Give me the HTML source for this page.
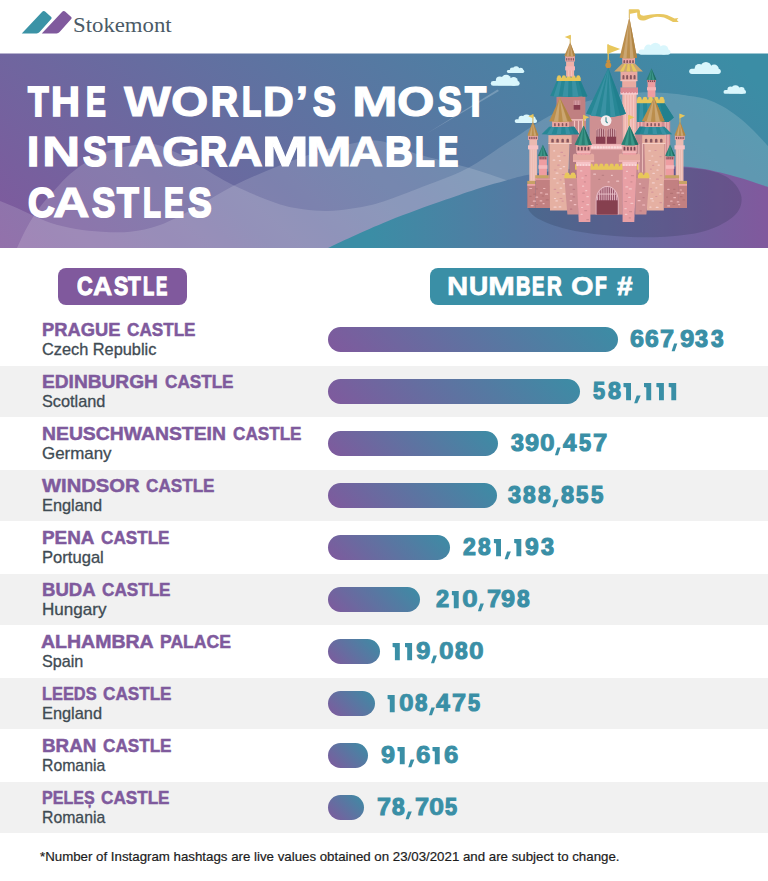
<!DOCTYPE html>
<html><head><meta charset="utf-8"><title>The World's Most Instagrammable Castles</title>
<style>
html,body{margin:0;padding:0;background:#fff;}
body{width:768px;height:881px;position:relative;overflow:hidden;font-family:"Liberation Sans",sans-serif;}
.abs{position:absolute;}
.t{position:absolute;white-space:nowrap;display:inline-block;transform-origin:0 0;line-height:1;}
.row{position:absolute;left:0;width:768px;height:50.8px;background:#f1f1f1;}
.name{font-weight:bold;font-size:18.6px;color:#7f5a9d;-webkit-text-stroke:0.5px #7f5a9d;}
.ctry{font-size:15.9px;color:#3f4b53;left:42.2px;-webkit-text-stroke:0.3px #3f4b53;}
.bar{position:absolute;left:328px;height:25px;border-radius:12.5px;background:linear-gradient(45deg,#80599d 0%,#3b8da5 100%);}
.val{font-weight:bold;font-size:23px;color:#3a8fa6;-webkit-text-stroke:0.6px #3a8fa6;}
.title{font-weight:bold;font-size:42px;color:#fff;left:27px;-webkit-text-stroke:1.1px #fff;}
.pill{position:absolute;border-radius:8px;}
.pt{font-weight:bold;font-size:26.6px;color:#fff;-webkit-text-stroke:0.7px #fff;}
</style></head><body>

<svg class="abs" style="left:0;top:0" width="200" height="54" viewBox="0 0 200 54">
<path d="M22,33.2 L42,11.9 Q43.7,10.4 45.4,11.8 L51.2,17 Q52.2,18 51.2,19.1 L39.6,32 Q38.4,33.4 36.6,33.4 L22.2,33.4 Q21.4,33.4 22,33.2Z" fill="#3b93a6"/>
<path d="M42,33.2 L62,11.9 Q63.7,10.4 65.4,11.8 L71.2,17 Q72.2,18 71.2,19.1 L59.6,32 Q58.4,33.4 56.6,33.4 L42.2,33.4 Q41.4,33.4 42,33.2Z" fill="#80599d"/>
</svg>
<span class="t" id="logo" style="font-family:'Liberation Serif',serif;font-size:21.5px;color:#4b5a66;left:73px;top:15px;transform:scaleX(1.0591)">Stokemont</span>

<svg class="abs" style="left:0;top:0" width="768" height="250" viewBox="0 0 768 250">
<defs>
<linearGradient id="bg" gradientUnits="userSpaceOnUse" x1="0" y1="248" x2="418" y2="-221"><stop offset="0" stop-color="#80599d"/><stop offset="1" stop-color="#3b8da5"/></linearGradient>
<linearGradient id="hg" gradientUnits="userSpaceOnUse" x1="370" y1="0" x2="765" y2="0"><stop offset="0" stop-color="#3b8da5"/><stop offset="1" stop-color="#80599d"/></linearGradient>
<clipPath id="bclip"><rect x="0" y="53.5" width="768" height="194.5"/></clipPath>
</defs>
<g clip-path="url(#bclip)">
<rect x="0" y="53" width="768" height="196" fill="url(#bg)"/>
<path d="M17.0,248.0 C18.3,245.2 22.2,236.4 25.0,231.0 C27.8,225.6 30.8,220.4 34.0,215.6 C37.2,210.8 40.3,206.5 44.0,202.0 C47.7,197.5 51.7,193.2 56.0,188.5 C60.3,183.8 64.3,178.8 70.0,174.0 C75.7,169.2 82.5,164.2 90.0,160.0 C97.5,155.8 104.8,151.7 115.0,149.0 C125.2,146.3 141.0,143.5 151.0,144.0 C161.0,144.5 167.2,148.5 175.0,152.0 C182.8,155.5 188.3,159.5 198.0,165.0 C207.7,170.5 220.0,178.7 233.0,185.0 C246.0,191.3 264.3,198.9 276.0,203.0 C287.7,207.1 294.5,208.0 303.0,209.3 C311.5,210.6 318.8,211.1 327.0,211.0 C335.2,210.9 343.2,210.0 352.0,208.6 C360.8,207.2 369.2,205.8 380.0,202.5 C390.8,199.2 402.7,194.6 417.0,189.0 C431.3,183.4 450.7,176.9 466.0,169.0 C481.3,161.1 494.2,150.8 509.0,141.5 C523.8,132.2 539.8,120.2 555.0,113.0 C570.2,105.8 585.8,101.4 600.0,98.0 C614.2,94.6 628.2,93.2 640.0,92.5 C651.8,91.8 662.7,92.9 671.0,93.5 C679.3,94.1 684.2,95.1 690.0,96.0 C695.8,96.9 700.7,97.3 706.0,99.0 C711.3,100.7 716.7,103.0 722.0,106.0 C727.3,109.0 732.8,112.7 738.0,116.7 C743.2,120.7 748.0,125.1 753.0,130.0 C758.0,134.9 765.5,143.3 768.0,146.0 L768,248 L17,248 Z" fill="#fff" fill-opacity="0.15"/>
<path d="M0.0,201.0 C2.8,202.2 11.3,205.5 17.0,208.0 C22.7,210.5 28.3,213.5 34.0,216.0 C39.7,218.5 44.0,220.8 51.0,223.0 C58.0,225.2 67.5,227.6 76.0,229.0 C84.5,230.4 93.0,231.2 102.0,231.7 C111.0,232.1 120.3,232.8 130.0,231.7 C139.7,230.6 149.2,228.9 160.0,225.0 C170.8,221.1 182.8,214.5 195.0,208.0 C207.2,201.5 219.5,192.8 233.0,186.0 C246.5,179.2 261.7,172.8 276.0,167.0 C290.3,161.2 306.7,155.3 319.0,151.5 C331.3,147.7 339.8,145.8 350.0,144.0 C360.2,142.2 368.8,139.3 380.0,141.0 C391.2,142.7 402.7,149.7 417.0,154.0 C431.3,158.3 451.2,162.7 466.0,167.0 C480.8,171.3 490.3,174.5 506.0,180.0 C521.7,185.5 541.0,192.5 560.0,200.0 C579.0,207.5 600.0,217.0 620.0,225.0 C640.0,233.0 670.0,244.2 680.0,248.0 L0,248 Z" fill="#fff" fill-opacity="0.15"/>
<path d="M426,134 L497.5,89.5 L499,91 Z" fill="#fff" fill-opacity="0.22"/>
<path d="M328.0,248.0 C332.0,246.1 342.1,241.1 352.0,236.7 C361.9,232.2 376.7,225.7 387.5,221.3 C398.3,216.9 406.9,213.7 416.7,210.1 C426.4,206.5 435.4,203.3 446.0,199.6 C456.6,195.9 470.0,191.2 480.0,188.0 C490.0,184.8 498.2,182.7 506.0,180.5 C513.8,178.3 518.0,176.8 527.0,175.0 C536.0,173.2 547.8,171.3 560.0,170.0 C572.2,168.7 586.7,167.7 600.0,167.0 C613.3,166.3 625.0,166.0 640.0,166.0 C655.0,166.0 675.0,165.5 690.0,167.0 C705.0,168.5 717.0,171.7 730.0,175.0 C743.0,178.3 761.7,185.0 768.0,187.0 L768,248 Z" fill="url(#hg)"/>
<path d="M527.0,200.0 C528.0,196.3 527.5,183.0 533.0,178.0 C538.5,173.0 545.5,172.0 560.0,170.0 C574.5,168.0 598.3,166.3 620.0,166.0 C641.7,165.7 672.5,166.3 690.0,168.0 C707.5,169.7 716.5,171.5 725.0,176.0 C733.5,180.5 739.3,188.5 741.0,195.0 C742.7,201.5 741.0,209.0 735.0,215.0 C729.0,221.0 717.5,227.3 705.0,231.0 C692.5,234.7 675.0,236.2 660.0,237.0 C645.0,237.8 629.2,237.0 615.0,236.0 C600.8,235.0 586.7,233.3 575.0,231.0 C563.3,228.7 552.5,225.2 545.0,222.0 C537.5,218.8 533.0,215.7 530.0,212.0 C527.0,208.3 527.5,202.0 527.0,200.0 Z" fill="#1e2840" fill-opacity="0.2"/>
</g>
<g fill="#d9f6fc">
<rect x="638.60" y="49.42" width="31.80" height="5.28" rx="2.64"/>
<circle cx="648.46" cy="48.94" r="4.32"/>
<circle cx="655.45" cy="48.22" r="5.52"/>
<circle cx="663.72" cy="49.90" r="4.68"/>
<rect x="646.55" y="49.30" width="19.08" height="4.80"/>
</g>
<g fill="#d9f6fc">
<rect x="689.20" y="68.72" width="31.60" height="5.28" rx="2.64"/>
<circle cx="699.00" cy="68.24" r="4.32"/>
<circle cx="705.95" cy="67.52" r="5.52"/>
<circle cx="714.16" cy="69.20" r="4.68"/>
<rect x="697.10" y="68.60" width="18.96" height="4.80"/>
</g>
<g fill="#d9f6fc">
<rect x="723.50" y="90.02" width="22.60" height="3.78" rx="1.89"/>
<circle cx="730.51" cy="89.67" r="3.10"/>
<circle cx="735.48" cy="89.16" r="3.96"/>
<circle cx="741.35" cy="90.36" r="3.35"/>
<rect x="729.15" y="89.93" width="13.56" height="3.44"/>
</g>
<g fill="#d9f6fc">
<rect x="490.80" y="80.96" width="28.90" height="4.84" rx="2.42"/>
<circle cx="499.76" cy="80.52" r="3.96"/>
<circle cx="506.12" cy="79.86" r="5.06"/>
<circle cx="513.63" cy="81.40" r="4.29"/>
<rect x="498.03" y="80.85" width="17.34" height="4.40"/>
</g>
<g fill="#d9f6fc">
<rect x="506.90" y="70.11" width="17.40" height="2.99" rx="1.50"/>
<circle cx="512.29" cy="69.84" r="2.45"/>
<circle cx="516.12" cy="69.43" r="3.13"/>
<circle cx="520.65" cy="70.38" r="2.65"/>
<rect x="511.25" y="70.04" width="10.44" height="2.72"/>
</g>
<g fill="#d9f6fc">
<rect x="514.70" y="119.22" width="22.40" height="3.78" rx="1.89"/>
<circle cx="521.64" cy="118.87" r="3.10"/>
<circle cx="526.57" cy="118.36" r="3.96"/>
<circle cx="532.40" cy="119.56" r="3.35"/>
<rect x="520.30" y="119.13" width="13.44" height="3.44"/>
</g>

<g id="castle">
<rect x="556.50" y="96.00" width="28.90" height="41.00" fill="#c08081"/>
<rect x="573.70" y="105.00" width="6.50" height="4.70" fill="#883d50"/>
<rect x="573.70" y="100.50" width="6.50" height="4.50" fill="#d9a0a6"/>
<rect x="574.30" y="100.50" width="0.60" height="4.50" fill="#b87a84"/>
<rect x="575.90" y="100.50" width="0.60" height="4.50" fill="#b87a84"/>
<rect x="577.50" y="100.50" width="0.60" height="4.50" fill="#b87a84"/>
<rect x="579.10" y="100.50" width="0.60" height="4.50" fill="#b87a84"/>
<rect x="572.00" y="119.50" width="14.00" height="17.50" fill="#c68688"/>
<rect x="571.00" y="119.20" width="15.00" height="1.40" fill="#f3c4c0"/>
<rect x="573.90" y="120.60" width="1.20" height="16.40" fill="#f3c4c0"/>
<rect x="577.90" y="120.60" width="1.20" height="16.40" fill="#f3c4c0"/>
<rect x="581.90" y="120.60" width="1.20" height="16.40" fill="#f3c4c0"/>
<path d="M556.7,81 L580.7,81 L587.6,96 Q569,98.2 550.2,96 Z" fill="#278795"/>
<polygon points="558.50,81.00 561.50,81.00 558.50,96.80 553.50,96.80" fill="#3a92a4"/>
<polygon points="565.00,81.00 568.50,81.00 568.00,96.80 562.50,96.80" fill="#3a92a4"/>
<polygon points="572.00,81.00 575.50,81.00 578.50,96.80 572.50,96.80" fill="#3a92a4"/>
<polygon points="578.50,81.00 580.70,81.00 587.20,96.80 582.50,96.80" fill="#21808e"/>
<rect x="556.70" y="77.64" width="24.00" height="3.36" fill="#e8c75b"/>
<rect x="557.18" y="75.20" width="3.84" height="4.06" rx="1.92" fill="#e8c75b"/>
<rect x="561.98" y="75.20" width="3.84" height="4.06" rx="1.92" fill="#e8c75b"/>
<rect x="566.78" y="75.20" width="3.84" height="4.06" rx="1.92" fill="#e8c75b"/>
<rect x="571.58" y="75.20" width="3.84" height="4.06" rx="1.92" fill="#e8c75b"/>
<rect x="576.38" y="75.20" width="3.84" height="4.06" rx="1.92" fill="#e8c75b"/>
<rect x="566.10" y="61.50" width="8.00" height="15.00" fill="#f0b0a8"/>
<rect x="565.20" y="66.30" width="9.80" height="4.10" fill="#f4b5b8"/>
<rect x="568.47" y="70.40" width="0.60" height="6.10" fill="#f7cfc9"/>
<rect x="571.13" y="70.40" width="0.60" height="6.10" fill="#f7cfc9"/>
<rect x="565.20" y="56.00" width="9.70" height="5.60" fill="#e9a5a2"/>
<path d="M566.13,60.40 L566.13,58.60 A0.58,0.58 0 0 1 567.29,58.60 L567.29,60.40 Z" fill="#87565f"/>
<path d="M568.36,60.40 L568.36,58.60 A0.58,0.58 0 0 1 569.52,58.60 L569.52,60.40 Z" fill="#87565f"/>
<path d="M570.58,60.40 L570.58,58.60 A0.58,0.58 0 0 1 571.74,58.60 L571.74,60.40 Z" fill="#87565f"/>
<path d="M572.81,60.40 L572.81,58.60 A0.58,0.58 0 0 1 573.97,58.60 L573.97,60.40 Z" fill="#87565f"/>
<path d="M570.20,42.30 L575.30,56.00 Q569.80,57.00 564.30,56.00 Z" fill="#bb8e4c"/>
<path d="M570.20,42.30 L568.70,56.40 L566.50,56.40 Z" fill="#cba672"/>
<path d="M570.20,42.30 L573.10,56.40 L570.90,56.40 Z" fill="#cba672"/>
<path d="M570.20,42.30 L575.30,56.00 L573.54,56.20 Z" fill="#b08545"/>
<rect x="569.70" y="35.30" width="1.00" height="7.70" fill="#d6b45c"/>
<polygon points="570.70,34.80 564.70,37.06 570.70,39.50" fill="#e8c75b"/>
<rect x="636.80" y="120.00" width="33.40" height="58.00" fill="#d38d93"/>
<rect x="637.70" y="121.00" width="1.00" height="55.00" fill="#f3c4c0"/>
<rect x="641.30" y="121.00" width="1.00" height="55.00" fill="#f3c4c0"/>
<rect x="664.70" y="121.00" width="1.00" height="55.00" fill="#f3c4c0"/>
<rect x="667.50" y="121.00" width="1.00" height="55.00" fill="#f3c4c0"/>
<rect x="647.60" y="79.50" width="7.80" height="18.00" fill="#ee9da1"/>
<rect x="647.00" y="79.50" width="9.00" height="2.70" fill="#c9868a"/>
<path d="M647.97,81.90 L647.97,80.52 A0.45,0.45 0 0 1 648.88,80.52 L648.88,81.90 Z" fill="#7c4050"/>
<path d="M650.02,81.90 L650.02,80.52 A0.45,0.45 0 0 1 650.93,80.52 L650.93,81.90 Z" fill="#7c4050"/>
<path d="M652.07,81.90 L652.07,80.52 A0.45,0.45 0 0 1 652.98,80.52 L652.98,81.90 Z" fill="#7c4050"/>
<path d="M654.12,81.90 L654.12,80.52 A0.45,0.45 0 0 1 655.03,80.52 L655.03,81.90 Z" fill="#7c4050"/>
<rect x="647.00" y="87.20" width="9.00" height="3.20" fill="#f4b3b6"/>
<path d="M651.50,68.50 L656.40,79.70 Q651.40,80.50 646.40,79.70 Z" fill="#2a7f73"/>
<path d="M651.50,68.50 L650.40,80.02 L648.40,80.02 Z" fill="#3c9789"/>
<path d="M651.50,68.50 L654.40,80.02 L652.40,80.02 Z" fill="#3c9789"/>
<path d="M651.50,68.50 L656.40,79.70 L654.80,79.86 Z" fill="#1f6f66"/>
<polygon points="636.60,103.00 664.40,103.00 673.80,117.50 668.50,122.00 636.60,122.00" fill="#278795"/>
<polygon points="660.00,103.00 664.40,103.00 673.80,117.50 668.50,122.00 664.00,122.00" fill="#21808e"/>
<polygon points="640.00,103.00 643.00,103.00 643.50,122.00 639.00,122.00" fill="#3a92a4"/>
<polygon points="647.00,103.00 650.00,103.00 652.00,122.00 647.50,122.00" fill="#3a92a4"/>
<polygon points="654.00,103.00 657.00,103.00 660.50,122.00 656.00,122.00" fill="#3a92a4"/>
<rect x="636.60" y="99.49" width="28.00" height="3.71" fill="#e8c75b"/>
<rect x="637.16" y="96.80" width="4.48" height="4.48" rx="2.24" fill="#e8c75b"/>
<rect x="642.76" y="96.80" width="4.48" height="4.48" rx="2.24" fill="#e8c75b"/>
<rect x="648.36" y="96.80" width="4.48" height="4.48" rx="2.24" fill="#e8c75b"/>
<rect x="653.96" y="96.80" width="4.48" height="4.48" rx="2.24" fill="#e8c75b"/>
<rect x="659.56" y="96.80" width="4.48" height="4.48" rx="2.24" fill="#e8c75b"/>
<rect x="622.30" y="93.00" width="14.30" height="72.00" fill="#eeb3ad"/>
<rect x="624.76" y="94.50" width="0.80" height="70.50" fill="#f8d3cd"/>
<rect x="627.62" y="94.50" width="0.80" height="70.50" fill="#f8d3cd"/>
<rect x="630.48" y="94.50" width="0.80" height="70.50" fill="#f8d3cd"/>
<rect x="633.34" y="94.50" width="0.80" height="70.50" fill="#f8d3cd"/>
<rect x="620.40" y="92.00" width="17.60" height="2.60" fill="#f7ced1"/>
<rect x="620.40" y="87.40" width="17.60" height="4.80" fill="#dc8992"/>
<circle cx="621.90" cy="92.2" r="1.1" fill="#dc8992"/>
<circle cx="624.85" cy="92.2" r="1.1" fill="#dc8992"/>
<circle cx="627.80" cy="92.2" r="1.1" fill="#dc8992"/>
<circle cx="630.75" cy="92.2" r="1.1" fill="#dc8992"/>
<circle cx="633.70" cy="92.2" r="1.1" fill="#dc8992"/>
<circle cx="636.65" cy="92.2" r="1.1" fill="#dc8992"/>
<rect x="622.20" y="80.50" width="14.00" height="7.10" fill="#e9aaa1"/>
<rect x="620.50" y="71.20" width="16.90" height="9.80" fill="#eaa9a1"/>
<rect x="620.50" y="80.30" width="16.90" height="0.90" fill="#f6cdc8"/>
<path d="M622.45,79.30 L622.45,76.10 A1.00,1.00 0 0 1 624.45,76.10 L624.45,79.30 Z" fill="#87565f"/>
<path d="M626.15,79.30 L626.15,76.10 A1.00,1.00 0 0 1 628.15,76.10 L628.15,79.30 Z" fill="#87565f"/>
<path d="M629.85,79.30 L629.85,76.10 A1.00,1.00 0 0 1 631.85,76.10 L631.85,79.30 Z" fill="#87565f"/>
<path d="M633.55,79.30 L633.55,76.10 A1.00,1.00 0 0 1 635.55,76.10 L635.55,79.30 Z" fill="#87565f"/>
<polygon points="622.30,63.50 635.00,63.50 642.90,71.50 614.10,71.50" fill="#cba672"/>
<polygon points="624.84,63.50 626.49,63.50 623.60,71.50 619.86,71.50" fill="#e8c75b"/>
<polygon points="627.76,63.50 629.41,63.50 630.23,71.50 626.48,71.50" fill="#e8c75b"/>
<polygon points="630.68,63.50 632.46,63.50 637.14,71.50 633.11,71.50" fill="#e8c75b"/>
<rect x="622.30" y="57.60" width="12.70" height="6.00" fill="#e9a5a2"/>
<path d="M623.41,63.00 L623.41,60.89 A0.85,0.85 0 0 1 625.11,60.89 L625.11,63.00 Z" fill="#87565f"/>
<path d="M626.34,63.00 L626.34,60.89 A0.85,0.85 0 0 1 628.04,60.89 L628.04,63.00 Z" fill="#87565f"/>
<path d="M629.26,63.00 L629.26,60.89 A0.85,0.85 0 0 1 630.96,60.89 L630.96,63.00 Z" fill="#87565f"/>
<path d="M632.19,63.00 L632.19,60.89 A0.85,0.85 0 0 1 633.89,60.89 L633.89,63.00 Z" fill="#87565f"/>
<path d="M629.30,17.20 L637.00,57.80 Q628.30,59.20 619.60,57.80 Z" fill="#bb8e4c"/>
<path d="M629.30,17.20 L626.56,58.36 L623.08,58.36 Z" fill="#cba672"/>
<path d="M629.30,17.20 L633.52,58.36 L630.04,58.36 Z" fill="#cba672"/>
<path d="M629.30,17.20 L637.00,57.80 L634.22,58.08 Z" fill="#b08545"/>
<rect x="628.80" y="9.60" width="1.00" height="8.40" fill="#d6b45c"/>
<path d="M629.3,9.3 L638.2,9.2 Q639.8,9.3 639.9,11 L640,14 Q641,16 645,15.6 Q651,14.4 657,14 Q663,13.6 667,15 Q671,16.6 674.6,18.6 L678.4,18 L676.8,20 L678.7,22 L673,22 Q668,19 664,17.4 Q659,16.4 654.5,16.9 Q649,18.4 645.4,20.2 Q641,21 639,19.5 Q637.2,18 637.2,15.5 L637.2,12.6 L629.3,14 Z" fill="#e8c760"/>
<rect x="589.60" y="113.00" width="33.00" height="57.00" fill="#ce9092"/>
<path d="M608.3,68 L625.9,113.8 Q608.3,120.5 586,113.8 Z" fill="#278795"/>
<path d="M608.3,68 L595.5,116.3 L590.5,115.7 Z" fill="#3a92a4"/>
<path d="M608.3,68 L605.5,117.5 L600.0,116.9 Z" fill="#3a92a4"/>
<path d="M608.3,68 L615.5,116.5 L610.5,117.1 Z" fill="#3a92a4"/>
<path d="M608.3,68 L625.9,113.8 L620,115.6 Z" fill="#21808e"/>
<rect x="607.60" y="44.50" width="1.30" height="17.50" fill="#dcbc5c"/>
<circle cx="608.3" cy="61.3" r="1.9" fill="#c8903f"/>
<circle cx="608.3" cy="65.2" r="2.9" fill="#c8903f"/>
<polygon points="607.30,44.20 620.20,48.90 607.30,54.00" fill="#e8c75b"/>
<circle cx="606.1" cy="120.6" r="5.4" fill="#f5efef"/>
<path d="M606,117.2 L606,121.4 L607.6,123" stroke="#3a8a90" stroke-width="1.1" fill="none"/>
<path d="M596.10,143.6 L596.10,130.6 Q600.65,126.6 605.20,130.6 L605.20,143.6 Z" fill="#91505f"/>
<rect x="596.64" y="129.50" width="0.72" height="7.50" fill="#efc4c8"/>
<rect x="598.47" y="128.60" width="0.72" height="8.40" fill="#efc4c8"/>
<rect x="600.29" y="128.60" width="0.72" height="8.40" fill="#efc4c8"/>
<rect x="602.12" y="128.60" width="0.72" height="8.40" fill="#efc4c8"/>
<rect x="603.94" y="129.50" width="0.72" height="7.50" fill="#efc4c8"/>
<rect x="596.10" y="136.70" width="9.10" height="6.90" fill="#883d50"/>
<path d="M607.00,143.6 L607.00,130.6 Q611.55,126.6 616.10,130.6 L616.10,143.6 Z" fill="#91505f"/>
<rect x="607.54" y="129.50" width="0.72" height="7.50" fill="#efc4c8"/>
<rect x="609.37" y="128.60" width="0.72" height="8.40" fill="#efc4c8"/>
<rect x="611.19" y="128.60" width="0.72" height="8.40" fill="#efc4c8"/>
<rect x="613.01" y="128.60" width="0.72" height="8.40" fill="#efc4c8"/>
<rect x="614.84" y="129.50" width="0.72" height="7.50" fill="#efc4c8"/>
<rect x="607.00" y="136.70" width="9.10" height="6.90" fill="#883d50"/>
<rect x="590.30" y="144.20" width="32.30" height="5.20" fill="#f4bbbe"/>
<rect x="591.30" y="146.2" width="2.3" height="2.4" rx="0.6" fill="#f9dcdc"/>
<rect x="594.10" y="146.2" width="2.3" height="2.4" rx="0.6" fill="#f9dcdc"/>
<rect x="596.90" y="146.2" width="2.3" height="2.4" rx="0.6" fill="#f9dcdc"/>
<rect x="599.70" y="146.2" width="2.3" height="2.4" rx="0.6" fill="#f9dcdc"/>
<rect x="602.50" y="146.2" width="2.3" height="2.4" rx="0.6" fill="#f9dcdc"/>
<rect x="605.30" y="146.2" width="2.3" height="2.4" rx="0.6" fill="#f9dcdc"/>
<rect x="608.10" y="146.2" width="2.3" height="2.4" rx="0.6" fill="#f9dcdc"/>
<rect x="610.90" y="146.2" width="2.3" height="2.4" rx="0.6" fill="#f9dcdc"/>
<rect x="613.70" y="146.2" width="2.3" height="2.4" rx="0.6" fill="#f9dcdc"/>
<rect x="616.50" y="146.2" width="2.3" height="2.4" rx="0.6" fill="#f9dcdc"/>
<rect x="619.30" y="146.2" width="2.3" height="2.4" rx="0.6" fill="#f9dcdc"/>
<rect x="589.80" y="169.00" width="33.00" height="45.60" fill="#cf9193"/>
<rect x="593.2" y="173.6" width="2.8" height="1.2" rx="0.5" fill="#efc4c6"/>
<rect x="601.7" y="174.8" width="2.4" height="1.2" rx="0.5" fill="#bb8083"/>
<rect x="610.9" y="174.7" width="2.0" height="1.2" rx="0.5" fill="#efc4c6"/>
<rect x="598.2" y="178.7" width="2.1" height="1.2" rx="0.5" fill="#bb8083"/>
<rect x="607.5" y="181.2" width="2.1" height="1.2" rx="0.5" fill="#efc4c6"/>
<rect x="616.1" y="180.5" width="3.1" height="1.2" rx="0.5" fill="#efc4c6"/>
<rect x="588.30" y="166.20" width="36.40" height="3.60" fill="#e8c75b"/>
<rect x="588.82" y="163.60" width="4.16" height="4.34" rx="2.08" fill="#e8c75b"/>
<rect x="594.02" y="163.60" width="4.16" height="4.34" rx="2.08" fill="#e8c75b"/>
<rect x="599.22" y="163.60" width="4.16" height="4.34" rx="2.08" fill="#e8c75b"/>
<rect x="604.42" y="163.60" width="4.16" height="4.34" rx="2.08" fill="#e8c75b"/>
<rect x="609.62" y="163.60" width="4.16" height="4.34" rx="2.08" fill="#e8c75b"/>
<rect x="614.82" y="163.60" width="4.16" height="4.34" rx="2.08" fill="#e8c75b"/>
<rect x="620.02" y="163.60" width="4.16" height="4.34" rx="2.08" fill="#e8c75b"/>
<path d="M595.7,214.6 L595.7,200.6 A11.45,14.7 0 0 1 618.6,200.6 L618.6,214.6 Z" fill="#e8bcc6"/>
<path d="M596.7,214.6 L596.7,200.6 A10.45,13.6 0 0 1 617.6,200.6 L617.6,214.6 Z" fill="#98546a"/>
<clipPath id="gclip"><path d="M596.7,214.6 L596.7,200.6 A10.45,13.6 0 0 1 617.6,200.6 L617.6,214.6 Z"/></clipPath>
<g clip-path="url(#gclip)">
<rect x="597.18" y="186.00" width="0.84" height="14.60" fill="#ecc3cb"/>
<rect x="599.30" y="186.00" width="0.84" height="14.60" fill="#ecc3cb"/>
<rect x="601.42" y="186.00" width="0.84" height="14.60" fill="#ecc3cb"/>
<rect x="603.55" y="186.00" width="0.84" height="14.60" fill="#ecc3cb"/>
<rect x="605.67" y="186.00" width="0.84" height="14.60" fill="#ecc3cb"/>
<rect x="607.79" y="186.00" width="0.84" height="14.60" fill="#ecc3cb"/>
<rect x="609.91" y="186.00" width="0.84" height="14.60" fill="#ecc3cb"/>
<rect x="612.04" y="186.00" width="0.84" height="14.60" fill="#ecc3cb"/>
<rect x="614.16" y="186.00" width="0.84" height="14.60" fill="#ecc3cb"/>
<rect x="616.28" y="186.00" width="0.84" height="14.60" fill="#ecc3cb"/>
<rect x="596.00" y="193.60" width="22.00" height="0.90" fill="#ecc3cb"/>
<rect x="596.00" y="200.40" width="22.00" height="14.60" fill="#86404f"/>
</g>
<rect x="675.70" y="139.50" width="7.80" height="41.50" fill="#ebbab1"/>
<rect x="681.10" y="149.40" width="0.80" height="31.10" fill="#f3cbc4"/>
<rect x="679.20" y="149.40" width="0.80" height="31.10" fill="#f3cbc4"/>
<rect x="677.30" y="149.40" width="0.80" height="31.10" fill="#f3cbc4"/>
<rect x="674.50" y="145.30" width="10.30" height="4.10" fill="#f6c2c4"/>
<rect x="674.90" y="135.20" width="9.80" height="4.80" fill="#e9a5a2"/>
<path d="M675.85,138.90 L675.85,137.46 A0.65,0.65 0 0 1 677.15,137.46 L677.15,138.90 Z" fill="#87565f"/>
<path d="M678.05,138.90 L678.05,137.46 A0.65,0.65 0 0 1 679.35,137.46 L679.35,138.90 Z" fill="#87565f"/>
<path d="M680.25,138.90 L680.25,137.46 A0.65,0.65 0 0 1 681.55,137.46 L681.55,138.90 Z" fill="#87565f"/>
<path d="M682.45,138.90 L682.45,137.46 A0.65,0.65 0 0 1 683.75,137.46 L683.75,138.90 Z" fill="#87565f"/>
<path d="M679.95,121.40 L685.50,135.40 Q679.95,136.40 674.40,135.40 Z" fill="#bb8e4c"/>
<path d="M679.95,121.40 L678.84,135.80 L676.62,135.80 Z" fill="#cba672"/>
<path d="M679.95,121.40 L683.28,135.80 L681.06,135.80 Z" fill="#cba672"/>
<path d="M679.95,121.40 L685.50,135.40 L683.72,135.60 Z" fill="#b08545"/>
<rect x="665.90" y="155.50" width="7.90" height="20.50" fill="#ee9da1"/>
<rect x="665.50" y="156.30" width="8.70" height="3.30" fill="#c9868a"/>
<path d="M666.59,159.20 L666.59,157.51 A0.45,0.45 0 0 1 667.49,157.51 L667.49,159.20 Z" fill="#7c4050"/>
<path d="M668.46,159.20 L668.46,157.51 A0.45,0.45 0 0 1 669.36,157.51 L669.36,159.20 Z" fill="#7c4050"/>
<path d="M670.34,159.20 L670.34,157.51 A0.45,0.45 0 0 1 671.24,157.51 L671.24,159.20 Z" fill="#7c4050"/>
<path d="M672.21,159.20 L672.21,157.51 A0.45,0.45 0 0 1 673.11,157.51 L673.11,159.20 Z" fill="#7c4050"/>
<rect x="665.40" y="165.20" width="8.90" height="3.60" fill="#f5b9bc"/>
<path d="M670.00,144.70 L675.00,155.90 Q670.00,156.70 665.00,155.90 Z" fill="#2a7f73"/>
<path d="M670.00,144.70 L669.00,156.22 L667.00,156.22 Z" fill="#3c9789"/>
<path d="M670.00,144.70 L673.00,156.22 L671.00,156.22 Z" fill="#3c9789"/>
<path d="M670.00,144.70 L675.00,155.90 L673.40,156.06 Z" fill="#1f6f66"/>
<rect x="678.70" y="184.00" width="8.30" height="24.00" fill="#c28081"/>
<rect x="678.90" y="180.90" width="8.10" height="3.20" fill="#c8a266"/>
<rect x="678.90" y="184.00" width="8.10" height="1.80" fill="#eea4a8"/>
<rect x="664.00" y="178.40" width="14.90" height="29.60" fill="#c28081"/>
<rect x="664.00" y="175.20" width="15.10" height="3.30" fill="#c8a266"/>
<rect x="664.00" y="178.40" width="14.90" height="1.40" fill="#e8a0a4"/>
<rect x="667.2" y="188.7" width="2.4" height="1.2" rx="0.5" fill="#e9b4b6"/>
<rect x="673.1" y="188.8" width="2.4" height="1.2" rx="0.5" fill="#b37274"/>
<rect x="679.7" y="189.4" width="2.3" height="1.2" rx="0.5" fill="#e9b4b6"/>
<rect x="670.0" y="192.8" width="3.1" height="1.2" rx="0.5" fill="#b37274"/>
<rect x="676.5" y="192.2" width="3.2" height="1.2" rx="0.5" fill="#e9b4b6"/>
<rect x="681.2" y="192.5" width="2.9" height="1.2" rx="0.5" fill="#e9b4b6"/>
<rect x="666.1" y="196.5" width="2.0" height="1.2" rx="0.5" fill="#b37274"/>
<rect x="673.3" y="197.1" width="2.7" height="1.2" rx="0.5" fill="#e9b4b6"/>
<rect x="679.8" y="196.1" width="2.8" height="1.2" rx="0.5" fill="#b37274"/>
<rect x="670.1" y="200.5" width="2.5" height="1.2" rx="0.5" fill="#e9b4b6"/>
<rect x="676.7" y="201.3" width="2.6" height="1.2" rx="0.5" fill="#e9b4b6"/>
<rect x="682.4" y="199.3" width="2.8" height="1.2" rx="0.5" fill="#b37274"/>
<rect x="667.1" y="205.2" width="3.0" height="1.2" rx="0.5" fill="#e9b4b6"/>
<rect x="672.5" y="203.8" width="2.8" height="1.2" rx="0.5" fill="#b37274"/>
<rect x="678.0" y="204.0" width="2.2" height="1.2" rx="0.5" fill="#e9b4b6"/>
<rect x="529.30" y="139.50" width="7.80" height="41.50" fill="#ebbab1"/>
<rect x="530.90" y="149.40" width="0.80" height="31.10" fill="#f3cbc4"/>
<rect x="532.80" y="149.40" width="0.80" height="31.10" fill="#f3cbc4"/>
<rect x="534.70" y="149.40" width="0.80" height="31.10" fill="#f3cbc4"/>
<rect x="528.00" y="145.30" width="10.30" height="4.10" fill="#f6c2c4"/>
<rect x="528.10" y="135.20" width="9.80" height="4.80" fill="#e9a5a2"/>
<path d="M529.05,138.90 L529.05,137.46 A0.65,0.65 0 0 1 530.35,137.46 L530.35,138.90 Z" fill="#87565f"/>
<path d="M531.25,138.90 L531.25,137.46 A0.65,0.65 0 0 1 532.55,137.46 L532.55,138.90 Z" fill="#87565f"/>
<path d="M533.45,138.90 L533.45,137.46 A0.65,0.65 0 0 1 534.75,137.46 L534.75,138.90 Z" fill="#87565f"/>
<path d="M535.65,138.90 L535.65,137.46 A0.65,0.65 0 0 1 536.95,137.46 L536.95,138.90 Z" fill="#87565f"/>
<path d="M532.85,121.40 L538.40,135.40 Q532.85,136.40 527.30,135.40 Z" fill="#bb8e4c"/>
<path d="M532.85,121.40 L531.74,135.80 L529.52,135.80 Z" fill="#cba672"/>
<path d="M532.85,121.40 L536.18,135.80 L533.96,135.80 Z" fill="#cba672"/>
<path d="M532.85,121.40 L538.40,135.40 L536.62,135.60 Z" fill="#b08545"/>
<rect x="539.00" y="155.50" width="7.90" height="20.50" fill="#ee9da1"/>
<rect x="538.60" y="156.30" width="8.70" height="3.30" fill="#c9868a"/>
<path d="M539.69,159.20 L539.69,157.51 A0.45,0.45 0 0 1 540.59,157.51 L540.59,159.20 Z" fill="#7c4050"/>
<path d="M541.56,159.20 L541.56,157.51 A0.45,0.45 0 0 1 542.46,157.51 L542.46,159.20 Z" fill="#7c4050"/>
<path d="M543.44,159.20 L543.44,157.51 A0.45,0.45 0 0 1 544.34,157.51 L544.34,159.20 Z" fill="#7c4050"/>
<path d="M545.31,159.20 L545.31,157.51 A0.45,0.45 0 0 1 546.21,157.51 L546.21,159.20 Z" fill="#7c4050"/>
<rect x="538.50" y="165.20" width="8.90" height="3.60" fill="#f5b9bc"/>
<path d="M542.80,144.70 L547.80,155.90 Q542.80,156.70 537.80,155.90 Z" fill="#2a7f73"/>
<path d="M542.80,144.70 L541.80,156.22 L539.80,156.22 Z" fill="#3c9789"/>
<path d="M542.80,144.70 L545.80,156.22 L543.80,156.22 Z" fill="#3c9789"/>
<path d="M542.80,144.70 L547.80,155.90 L546.20,156.06 Z" fill="#1f6f66"/>
<rect x="527.30" y="184.00" width="8.30" height="24.00" fill="#c28081"/>
<rect x="527.30" y="180.90" width="8.10" height="3.20" fill="#c8a266"/>
<rect x="527.30" y="184.00" width="8.10" height="1.80" fill="#eea4a8"/>
<rect x="535.40" y="178.40" width="14.90" height="29.60" fill="#c28081"/>
<rect x="535.20" y="175.20" width="15.10" height="3.30" fill="#c8a266"/>
<rect x="535.40" y="178.40" width="14.90" height="1.40" fill="#e8a0a4"/>
<rect x="529.2" y="187.9" width="2.9" height="1.2" rx="0.5" fill="#e9b4b6"/>
<rect x="535.3" y="188.3" width="2.5" height="1.2" rx="0.5" fill="#b37274"/>
<rect x="543.0" y="187.9" width="2.5" height="1.2" rx="0.5" fill="#e9b4b6"/>
<rect x="533.2" y="193.6" width="3.0" height="1.2" rx="0.5" fill="#b37274"/>
<rect x="540.0" y="192.2" width="2.5" height="1.2" rx="0.5" fill="#e9b4b6"/>
<rect x="545.0" y="193.6" width="3.1" height="1.2" rx="0.5" fill="#e9b4b6"/>
<rect x="529.3" y="195.8" width="2.3" height="1.2" rx="0.5" fill="#b37274"/>
<rect x="535.5" y="196.5" width="2.7" height="1.2" rx="0.5" fill="#e9b4b6"/>
<rect x="541.7" y="195.4" width="2.5" height="1.2" rx="0.5" fill="#b37274"/>
<rect x="532.8" y="200.5" width="3.1" height="1.2" rx="0.5" fill="#e9b4b6"/>
<rect x="539.6" y="200.3" width="2.7" height="1.2" rx="0.5" fill="#e9b4b6"/>
<rect x="545.7" y="199.3" width="3.1" height="1.2" rx="0.5" fill="#b37274"/>
<rect x="530.6" y="205.0" width="3.0" height="1.2" rx="0.5" fill="#e9b4b6"/>
<rect x="535.9" y="203.9" width="2.1" height="1.2" rx="0.5" fill="#b37274"/>
<rect x="542.5" y="203.1" width="2.1" height="1.2" rx="0.5" fill="#e9b4b6"/>
<rect x="532.40" y="114.60" width="1.00" height="7.40" fill="#d6b45c"/>
<polygon points="533.40,114.10 528.30,116.20 533.40,118.40" fill="#e8c75b"/>
<rect x="679.50" y="114.00" width="1.00" height="8.50" fill="#d6b45c"/>
<polygon points="679.50,113.50 685.20,115.85 679.50,118.40" fill="#e8c75b"/>
<rect x="635.30" y="134.00" width="9.20" height="44.00" fill="#c1878c"/>
<rect x="636.60" y="164.20" width="2.10" height="5.50" fill="#e8c75b"/>
<polygon points="664.20,143.40 644.40,143.40 646.60,210.60 663.80,210.60" fill="#e5b0a2"/>
<rect x="664.00" y="143.40" width="1.30" height="34.60" fill="#cf9590"/>
<rect x="648.4" y="150.3" width="2.4" height="1.2" rx="0.5" fill="#f3cfcc"/>
<rect x="654.4" y="149.9" width="2.2" height="1.2" rx="0.5" fill="#d6959b"/>
<rect x="651.3" y="155.4" width="2.0" height="1.2" rx="0.5" fill="#f3cfcc"/>
<rect x="659.4" y="156.1" width="2.2" height="1.2" rx="0.5" fill="#d6959b"/>
<rect x="648.5" y="159.9" width="2.4" height="1.2" rx="0.5" fill="#f3cfcc"/>
<rect x="654.5" y="161.3" width="3.2" height="1.2" rx="0.5" fill="#f3cfcc"/>
<rect x="652.1" y="164.8" width="2.1" height="1.2" rx="0.5" fill="#d6959b"/>
<rect x="657.6" y="164.5" width="2.3" height="1.2" rx="0.5" fill="#f3cfcc"/>
<rect x="649.8" y="168.5" width="2.0" height="1.2" rx="0.5" fill="#d6959b"/>
<rect x="656.4" y="169.5" width="2.2" height="1.2" rx="0.5" fill="#f3cfcc"/>
<rect x="652.3" y="172.7" width="2.6" height="1.2" rx="0.5" fill="#f3cfcc"/>
<rect x="659.6" y="175.0" width="2.8" height="1.2" rx="0.5" fill="#d6959b"/>
<rect x="648.5" y="178.1" width="2.2" height="1.2" rx="0.5" fill="#f3cfcc"/>
<rect x="656.0" y="178.6" width="2.9" height="1.2" rx="0.5" fill="#d6959b"/>
<rect x="651.8" y="182.3" width="3.0" height="1.2" rx="0.5" fill="#f3cfcc"/>
<rect x="659.6" y="184.0" width="3.0" height="1.2" rx="0.5" fill="#f3cfcc"/>
<rect x="649.8" y="188.2" width="2.3" height="1.2" rx="0.5" fill="#d6959b"/>
<rect x="655.4" y="187.2" width="2.0" height="1.2" rx="0.5" fill="#f3cfcc"/>
<rect x="651.2" y="191.5" width="2.3" height="1.2" rx="0.5" fill="#d6959b"/>
<rect x="659.0" y="193.4" width="2.5" height="1.2" rx="0.5" fill="#f3cfcc"/>
<rect x="650.1" y="198.0" width="3.1" height="1.2" rx="0.5" fill="#f3cfcc"/>
<rect x="655.1" y="195.9" width="2.3" height="1.2" rx="0.5" fill="#d6959b"/>
<rect x="651.5" y="200.4" width="2.7" height="1.2" rx="0.5" fill="#f3cfcc"/>
<rect x="659.4" y="202.1" width="2.6" height="1.2" rx="0.5" fill="#d6959b"/>
<rect x="649.4" y="206.5" width="2.1" height="1.2" rx="0.5" fill="#f3cfcc"/>
<rect x="655.7" y="206.8" width="2.9" height="1.2" rx="0.5" fill="#f3cfcc"/>
<rect x="638.45" y="144.00" width="0.90" height="28.50" fill="#f3c4c0"/>
<rect x="641.95" y="144.00" width="0.90" height="28.50" fill="#f3c4c0"/>
<polygon points="649.40,178.00 635.20,178.00 635.20,214.50 646.40,214.50" fill="#ce9092"/>
<rect x="638.9" y="183.2" width="2.2" height="1.2" rx="0.5" fill="#f3c0c4"/>
<rect x="642.2" y="187.2" width="3.0" height="1.2" rx="0.5" fill="#bd7a84"/>
<rect x="639.4" y="191.8" width="2.5" height="1.2" rx="0.5" fill="#f3c0c4"/>
<rect x="642.5" y="197.1" width="2.2" height="1.2" rx="0.5" fill="#bd7a84"/>
<rect x="637.5" y="200.0" width="3.1" height="1.2" rx="0.5" fill="#f3c0c4"/>
<rect x="642.2" y="204.4" width="3.0" height="1.2" rx="0.5" fill="#f3c0c4"/>
<rect x="639.5" y="210.2" width="2.4" height="1.2" rx="0.5" fill="#bd7a84"/>
<rect x="637.90" y="174.88" width="11.50" height="3.42" fill="#e8c75b"/>
<rect x="638.48" y="172.40" width="4.60" height="4.13" rx="2.07" fill="#e8c75b"/>
<rect x="644.23" y="172.40" width="4.60" height="4.13" rx="2.07" fill="#e8c75b"/>
<rect x="642.20" y="135.20" width="23.20" height="8.60" fill="#e8b0a0"/>
<rect x="642.20" y="143.00" width="23.20" height="1.00" fill="#f4cfc6"/>
<path d="M644.87,142.60 L644.87,140.07 A1.25,1.25 0 0 1 647.37,140.07 L647.37,142.60 Z" fill="#87565f"/>
<path d="M649.92,142.60 L649.92,140.07 A1.25,1.25 0 0 1 652.42,140.07 L652.42,142.60 Z" fill="#87565f"/>
<path d="M654.97,142.60 L654.97,140.07 A1.25,1.25 0 0 1 657.47,140.07 L657.47,142.60 Z" fill="#87565f"/>
<path d="M660.02,142.60 L660.02,140.07 A1.25,1.25 0 0 1 662.52,140.07 L662.52,142.60 Z" fill="#87565f"/>
<polygon points="664.60,126.80 639.60,126.80 634.60,134.30 672.20,134.30" fill="#278795"/>
<polygon points="662.30,126.80 659.30,126.80 662.30,134.30 666.80,134.30" fill="#3a92a4"/>
<polygon points="655.80,126.80 652.30,126.80 652.80,134.30 657.30,134.30" fill="#3a92a4"/>
<polygon points="648.80,126.80 645.80,126.80 643.30,134.30 647.80,134.30" fill="#3a92a4"/>
<polygon points="642.80,126.80 639.60,126.80 634.60,134.30 639.30,134.30" fill="#21808e"/>
<path d="M672.20,134.3 Q653.40,135.8 634.60,134.3 Z" fill="#278795"/>
<rect x="644.70" y="121.00" width="17.00" height="6.00" fill="#e9a79f"/>
<path d="M646.61,126.20 L646.61,123.76 A0.80,0.80 0 0 1 648.21,123.76 L648.21,126.20 Z" fill="#87565f"/>
<path d="M650.44,126.20 L650.44,123.76 A0.80,0.80 0 0 1 652.04,123.76 L652.04,126.20 Z" fill="#87565f"/>
<path d="M654.26,126.20 L654.26,123.76 A0.80,0.80 0 0 1 655.86,123.76 L655.86,126.20 Z" fill="#87565f"/>
<path d="M658.09,126.20 L658.09,123.76 A0.80,0.80 0 0 1 659.69,123.76 L659.69,126.20 Z" fill="#87565f"/>
<path d="M654.00,97.70 L664.60,121.20 Q653.20,122.60 641.80,121.20 Z" fill="#bb8e4c"/>
<path d="M654.00,97.70 L650.92,121.76 L646.36,121.76 Z" fill="#cba672"/>
<path d="M654.00,97.70 L660.04,121.76 L655.48,121.76 Z" fill="#cba672"/>
<path d="M654.00,97.70 L664.60,121.20 L660.95,121.48 Z" fill="#b08545"/>
<rect x="569.30" y="134.00" width="9.20" height="44.00" fill="#b27a82"/>
<rect x="575.10" y="164.20" width="2.10" height="5.50" fill="#e8c75b"/>
<polygon points="549.60,143.40 569.40,143.40 567.20,210.60 550.00,210.60" fill="#e5b0a2"/>
<rect x="548.50" y="143.40" width="1.30" height="34.60" fill="#cf9590"/>
<rect x="553.2" y="150.3" width="2.0" height="1.2" rx="0.5" fill="#f3cfcc"/>
<rect x="560.4" y="151.7" width="2.6" height="1.2" rx="0.5" fill="#d6959b"/>
<rect x="557.2" y="155.6" width="3.0" height="1.2" rx="0.5" fill="#f3cfcc"/>
<rect x="563.3" y="155.0" width="2.3" height="1.2" rx="0.5" fill="#d6959b"/>
<rect x="552.6" y="159.6" width="2.7" height="1.2" rx="0.5" fill="#f3cfcc"/>
<rect x="558.8" y="160.1" width="2.2" height="1.2" rx="0.5" fill="#f3cfcc"/>
<rect x="557.2" y="164.5" width="2.5" height="1.2" rx="0.5" fill="#d6959b"/>
<rect x="562.7" y="166.0" width="2.5" height="1.2" rx="0.5" fill="#f3cfcc"/>
<rect x="554.0" y="169.4" width="2.6" height="1.2" rx="0.5" fill="#d6959b"/>
<rect x="559.4" y="168.1" width="2.5" height="1.2" rx="0.5" fill="#f3cfcc"/>
<rect x="555.5" y="172.6" width="3.0" height="1.2" rx="0.5" fill="#f3cfcc"/>
<rect x="561.8" y="173.9" width="2.9" height="1.2" rx="0.5" fill="#d6959b"/>
<rect x="553.2" y="178.0" width="2.6" height="1.2" rx="0.5" fill="#f3cfcc"/>
<rect x="559.5" y="179.3" width="2.1" height="1.2" rx="0.5" fill="#d6959b"/>
<rect x="556.4" y="182.4" width="2.3" height="1.2" rx="0.5" fill="#f3cfcc"/>
<rect x="563.1" y="183.1" width="2.7" height="1.2" rx="0.5" fill="#f3cfcc"/>
<rect x="553.7" y="188.7" width="2.5" height="1.2" rx="0.5" fill="#d6959b"/>
<rect x="559.6" y="187.6" width="2.6" height="1.2" rx="0.5" fill="#f3cfcc"/>
<rect x="556.7" y="192.0" width="2.6" height="1.2" rx="0.5" fill="#d6959b"/>
<rect x="562.5" y="193.3" width="2.8" height="1.2" rx="0.5" fill="#f3cfcc"/>
<rect x="553.9" y="197.9" width="2.3" height="1.2" rx="0.5" fill="#f3cfcc"/>
<rect x="559.5" y="197.9" width="3.0" height="1.2" rx="0.5" fill="#d6959b"/>
<rect x="555.4" y="200.2" width="2.5" height="1.2" rx="0.5" fill="#f3cfcc"/>
<rect x="561.6" y="200.5" width="2.1" height="1.2" rx="0.5" fill="#d6959b"/>
<rect x="553.5" y="206.5" width="3.1" height="1.2" rx="0.5" fill="#f3cfcc"/>
<rect x="558.6" y="206.3" width="2.8" height="1.2" rx="0.5" fill="#f3cfcc"/>
<polygon points="564.40,178.00 578.60,178.00 578.60,214.50 567.40,214.50" fill="#ce9092"/>
<rect x="569.3" y="184.2" width="3.2" height="1.2" rx="0.5" fill="#f3c0c4"/>
<rect x="572.6" y="188.8" width="2.5" height="1.2" rx="0.5" fill="#bd7a84"/>
<rect x="570.0" y="193.4" width="3.0" height="1.2" rx="0.5" fill="#f3c0c4"/>
<rect x="572.5" y="196.3" width="2.6" height="1.2" rx="0.5" fill="#bd7a84"/>
<rect x="569.7" y="200.1" width="2.4" height="1.2" rx="0.5" fill="#f3c0c4"/>
<rect x="573.7" y="204.1" width="2.7" height="1.2" rx="0.5" fill="#f3c0c4"/>
<rect x="569.9" y="208.5" width="2.4" height="1.2" rx="0.5" fill="#bd7a84"/>
<rect x="564.40" y="174.88" width="11.50" height="3.42" fill="#e8c75b"/>
<rect x="564.98" y="172.40" width="4.60" height="4.13" rx="2.07" fill="#e8c75b"/>
<rect x="570.73" y="172.40" width="4.60" height="4.13" rx="2.07" fill="#e8c75b"/>
<rect x="548.40" y="135.20" width="23.20" height="8.60" fill="#e8b0a0"/>
<rect x="548.40" y="143.00" width="23.20" height="1.00" fill="#f4cfc6"/>
<path d="M551.27,142.60 L551.27,140.07 A1.25,1.25 0 0 1 553.77,140.07 L553.77,142.60 Z" fill="#87565f"/>
<path d="M556.33,142.60 L556.33,140.07 A1.25,1.25 0 0 1 558.83,140.07 L558.83,142.60 Z" fill="#87565f"/>
<path d="M561.38,142.60 L561.38,140.07 A1.25,1.25 0 0 1 563.88,140.07 L563.88,142.60 Z" fill="#87565f"/>
<path d="M566.43,142.60 L566.43,140.07 A1.25,1.25 0 0 1 568.93,140.07 L568.93,142.60 Z" fill="#87565f"/>
<polygon points="549.20,126.80 574.20,126.80 579.20,134.30 541.60,134.30" fill="#278795"/>
<polygon points="551.50,126.80 554.50,126.80 551.50,134.30 547.00,134.30" fill="#3a92a4"/>
<polygon points="558.00,126.80 561.50,126.80 561.00,134.30 556.50,134.30" fill="#3a92a4"/>
<polygon points="565.00,126.80 568.00,126.80 570.50,134.30 566.00,134.30" fill="#3a92a4"/>
<polygon points="571.00,126.80 574.20,126.80 579.20,134.30 574.50,134.30" fill="#21808e"/>
<path d="M541.60,134.3 Q560.40,135.8 579.20,134.3 Z" fill="#278795"/>
<rect x="552.10" y="121.00" width="17.00" height="6.00" fill="#e9a79f"/>
<path d="M554.11,126.20 L554.11,123.76 A0.80,0.80 0 0 1 555.71,123.76 L555.71,126.20 Z" fill="#87565f"/>
<path d="M557.94,126.20 L557.94,123.76 A0.80,0.80 0 0 1 559.54,123.76 L559.54,126.20 Z" fill="#87565f"/>
<path d="M561.76,126.20 L561.76,123.76 A0.80,0.80 0 0 1 563.36,123.76 L563.36,126.20 Z" fill="#87565f"/>
<path d="M565.59,126.20 L565.59,123.76 A0.80,0.80 0 0 1 567.19,123.76 L567.19,126.20 Z" fill="#87565f"/>
<path d="M559.80,97.70 L572.00,121.20 Q560.60,122.60 549.20,121.20 Z" fill="#bb8e4c"/>
<path d="M559.80,97.70 L558.32,121.76 L553.76,121.76 Z" fill="#cba672"/>
<path d="M559.80,97.70 L567.44,121.76 L562.88,121.76 Z" fill="#cba672"/>
<path d="M559.80,97.70 L572.00,121.20 L568.35,121.48 Z" fill="#b08545"/>
<polygon points="636.80,161.00 622.40,161.00 622.60,222.00 634.30,222.00" fill="#e9a0a5"/>
<rect x="625.9" y="170.8" width="2.1" height="1.2" rx="0.5" fill="#f3c6c8"/>
<rect x="630.9" y="175.1" width="3.2" height="1.2" rx="0.5" fill="#cf8c92"/>
<rect x="624.4" y="177.6" width="2.0" height="1.2" rx="0.5" fill="#f3c6c8"/>
<rect x="630.3" y="181.2" width="2.2" height="1.2" rx="0.5" fill="#cf8c92"/>
<rect x="625.3" y="186.3" width="3.0" height="1.2" rx="0.5" fill="#f3c6c8"/>
<rect x="628.8" y="188.3" width="3.1" height="1.2" rx="0.5" fill="#f3c6c8"/>
<rect x="625.7" y="193.1" width="2.1" height="1.2" rx="0.5" fill="#cf8c92"/>
<rect x="628.2" y="196.7" width="2.5" height="1.2" rx="0.5" fill="#f3c6c8"/>
<rect x="624.3" y="200.9" width="2.8" height="1.2" rx="0.5" fill="#cf8c92"/>
<rect x="630.4" y="202.7" width="3.0" height="1.2" rx="0.5" fill="#f3c6c8"/>
<rect x="624.3" y="208.0" width="2.5" height="1.2" rx="0.5" fill="#f3c6c8"/>
<rect x="629.0" y="211.0" width="3.1" height="1.2" rx="0.5" fill="#cf8c92"/>
<rect x="624.8" y="213.7" width="2.6" height="1.2" rx="0.5" fill="#f3c6c8"/>
<rect x="628.7" y="217.3" width="2.2" height="1.2" rx="0.5" fill="#cf8c92"/>
<rect x="622.40" y="161.50" width="14.50" height="4.40" fill="#f6c3c7"/>
<rect x="634.60" y="164.3" width="1.6" height="1.5" rx="0.7" fill="#fbe1e2"/>
<rect x="631.70" y="164.3" width="1.6" height="1.5" rx="0.7" fill="#fbe1e2"/>
<rect x="628.80" y="164.3" width="1.6" height="1.5" rx="0.7" fill="#fbe1e2"/>
<rect x="625.90" y="164.3" width="1.6" height="1.5" rx="0.7" fill="#fbe1e2"/>
<rect x="623.00" y="164.3" width="1.6" height="1.5" rx="0.7" fill="#fbe1e2"/>
<rect x="618.90" y="154.60" width="21.10" height="7.20" fill="#e4a9a0"/>
<rect x="618.90" y="160.30" width="21.10" height="1.50" fill="#efb4b4"/>
<rect x="636.30" y="153.7" width="3.2" height="1.8" rx="0.8" fill="#e4a9a0"/>
<rect x="632.08" y="153.7" width="3.2" height="1.8" rx="0.8" fill="#e4a9a0"/>
<rect x="627.86" y="153.7" width="3.2" height="1.8" rx="0.8" fill="#e4a9a0"/>
<rect x="623.64" y="153.7" width="3.2" height="1.8" rx="0.8" fill="#e4a9a0"/>
<rect x="619.42" y="153.7" width="3.2" height="1.8" rx="0.8" fill="#e4a9a0"/>
<rect x="623.00" y="151.00" width="13.00" height="3.80" fill="#ec9fa4"/>
<rect x="622.50" y="151.10" width="14.10" height="1.80" fill="#f3babd"/>
<rect x="622.20" y="144.60" width="14.70" height="6.70" fill="#e7a6a3"/>
<path d="M623.57,150.50 L623.57,147.63 A0.90,0.90 0 0 1 625.37,147.63 L625.37,150.50 Z" fill="#7c4656"/>
<path d="M626.93,150.50 L626.93,147.63 A0.90,0.90 0 0 1 628.73,147.63 L628.73,150.50 Z" fill="#7c4656"/>
<path d="M630.27,150.50 L630.27,147.63 A0.90,0.90 0 0 1 632.07,147.63 L632.07,150.50 Z" fill="#7c4656"/>
<path d="M633.63,150.50 L633.63,147.63 A0.90,0.90 0 0 1 635.43,147.63 L635.43,150.50 Z" fill="#7c4656"/>
<path d="M629.40,125.60 L638.40,144.70 Q629.80,146.10 621.20,144.70 Z" fill="#2a7f73"/>
<path d="M629.40,125.60 L628.08,145.26 L624.64,145.26 Z" fill="#3c9789"/>
<path d="M629.40,125.60 L634.96,145.26 L631.52,145.26 Z" fill="#3c9789"/>
<path d="M629.40,125.60 L638.40,144.70 L635.65,144.98 Z" fill="#1f6f66"/>
<polygon points="576.20,161.00 590.60,161.00 590.40,222.00 578.70,222.00" fill="#e9a0a5"/>
<rect x="580.0" y="170.2" width="2.4" height="1.2" rx="0.5" fill="#f3c6c8"/>
<rect x="584.7" y="175.0" width="2.3" height="1.2" rx="0.5" fill="#cf8c92"/>
<rect x="581.3" y="177.4" width="2.4" height="1.2" rx="0.5" fill="#f3c6c8"/>
<rect x="583.9" y="181.2" width="2.0" height="1.2" rx="0.5" fill="#cf8c92"/>
<rect x="582.0" y="185.5" width="2.2" height="1.2" rx="0.5" fill="#f3c6c8"/>
<rect x="585.2" y="190.0" width="2.1" height="1.2" rx="0.5" fill="#f3c6c8"/>
<rect x="582.2" y="192.5" width="2.6" height="1.2" rx="0.5" fill="#cf8c92"/>
<rect x="586.3" y="196.1" width="2.6" height="1.2" rx="0.5" fill="#f3c6c8"/>
<rect x="581.8" y="201.0" width="2.4" height="1.2" rx="0.5" fill="#cf8c92"/>
<rect x="586.3" y="204.1" width="2.8" height="1.2" rx="0.5" fill="#f3c6c8"/>
<rect x="581.0" y="206.9" width="2.1" height="1.2" rx="0.5" fill="#f3c6c8"/>
<rect x="584.2" y="210.0" width="2.9" height="1.2" rx="0.5" fill="#cf8c92"/>
<rect x="580.6" y="213.8" width="2.1" height="1.2" rx="0.5" fill="#f3c6c8"/>
<rect x="586.3" y="219.0" width="2.8" height="1.2" rx="0.5" fill="#cf8c92"/>
<rect x="576.10" y="161.50" width="14.50" height="4.40" fill="#f6c3c7"/>
<rect x="576.80" y="164.3" width="1.6" height="1.5" rx="0.7" fill="#fbe1e2"/>
<rect x="579.70" y="164.3" width="1.6" height="1.5" rx="0.7" fill="#fbe1e2"/>
<rect x="582.60" y="164.3" width="1.6" height="1.5" rx="0.7" fill="#fbe1e2"/>
<rect x="585.50" y="164.3" width="1.6" height="1.5" rx="0.7" fill="#fbe1e2"/>
<rect x="588.40" y="164.3" width="1.6" height="1.5" rx="0.7" fill="#fbe1e2"/>
<rect x="573.00" y="154.60" width="21.10" height="7.20" fill="#e4a9a0"/>
<rect x="573.00" y="160.30" width="21.10" height="1.50" fill="#efb4b4"/>
<rect x="573.50" y="153.7" width="3.2" height="1.8" rx="0.8" fill="#e4a9a0"/>
<rect x="577.72" y="153.7" width="3.2" height="1.8" rx="0.8" fill="#e4a9a0"/>
<rect x="581.94" y="153.7" width="3.2" height="1.8" rx="0.8" fill="#e4a9a0"/>
<rect x="586.16" y="153.7" width="3.2" height="1.8" rx="0.8" fill="#e4a9a0"/>
<rect x="590.38" y="153.7" width="3.2" height="1.8" rx="0.8" fill="#e4a9a0"/>
<rect x="577.00" y="151.00" width="13.00" height="3.80" fill="#ec9fa4"/>
<rect x="576.40" y="151.10" width="14.10" height="1.80" fill="#f3babd"/>
<rect x="576.10" y="144.60" width="14.70" height="6.70" fill="#e7a6a3"/>
<path d="M577.57,150.50 L577.57,147.63 A0.90,0.90 0 0 1 579.37,147.63 L579.37,150.50 Z" fill="#7c4656"/>
<path d="M580.93,150.50 L580.93,147.63 A0.90,0.90 0 0 1 582.73,147.63 L582.73,150.50 Z" fill="#7c4656"/>
<path d="M584.27,150.50 L584.27,147.63 A0.90,0.90 0 0 1 586.07,147.63 L586.07,150.50 Z" fill="#7c4656"/>
<path d="M587.63,150.50 L587.63,147.63 A0.90,0.90 0 0 1 589.43,147.63 L589.43,150.50 Z" fill="#7c4656"/>
<path d="M583.60,125.60 L591.80,144.70 Q583.20,146.10 574.60,144.70 Z" fill="#2a7f73"/>
<path d="M583.60,125.60 L581.48,145.26 L578.04,145.26 Z" fill="#3c9789"/>
<path d="M583.60,125.60 L588.36,145.26 L584.92,145.26 Z" fill="#3c9789"/>
<path d="M583.60,125.60 L591.80,144.70 L589.05,144.98 Z" fill="#1f6f66"/>
<rect x="583.20" y="115.20" width="1.00" height="10.80" fill="#d6b45c"/>
<polygon points="583.20,114.70 589.30,117.22 583.20,120.00" fill="#e8c75b"/>
<rect x="628.40" y="115.20" width="1.00" height="10.80" fill="#d6b45c"/>
<polygon points="628.40,114.70 634.50,117.22 628.40,120.00" fill="#e8c75b"/>
</g>

</svg>

<span class="t title" style="left:27.61px;top:80.7px;-webkit-text-stroke-width:2px;transform:scaleX(0.8031)">T</span>
<span class="t title" style="left:51.23px;top:80.7px;-webkit-text-stroke-width:1.62px;transform:scaleX(0.9542)">H</span>
<span class="t title" style="left:86.48px;top:80.7px;-webkit-text-stroke-width:2px;transform:scaleX(0.7076)">E</span>
<span class="t title" style="left:123.65px;top:80.7px;-webkit-text-stroke-width:0.9px;transform:scaleX(1.1858)">W</span>
<span class="t title" style="left:171.1px;top:80.7px;-webkit-text-stroke-width:0.9px;transform:scaleX(1.1436)">O</span>
<span class="t title" style="left:211.27px;top:80.7px;-webkit-text-stroke-width:2px;transform:scaleX(0.8884)">R</span>
<span class="t title" style="left:241.91px;top:80.7px;-webkit-text-stroke-width:2px;transform:scaleX(0.7494)">L</span>
<span class="t title" style="left:263.23px;top:80.7px;-webkit-text-stroke-width:1.21px;transform:scaleX(1.0175)">D</span>
<span class="t title" style="left:295.58px;top:80.7px;-webkit-text-stroke-width:1.45px;transform:scaleX(1.019)">&rsquo;</span>
<span class="t title" style="left:313.47px;top:80.7px;-webkit-text-stroke-width:2px;transform:scaleX(0.8116)">S</span>
<span class="t title" style="left:352.33px;top:80.7px;-webkit-text-stroke-width:0.9px;transform:scaleX(1.306)">M</span>
<span class="t title" style="left:396.89px;top:80.7px;-webkit-text-stroke-width:0.9px;transform:scaleX(1.1468)">O</span>
<span class="t title" style="left:437.87px;top:80.7px;-webkit-text-stroke-width:2px;transform:scaleX(0.8436)">S</span>
<span class="t title" style="left:464.83px;top:80.7px;-webkit-text-stroke-width:2px;transform:scaleX(0.8214)">T</span>
<span class="t title" style="left:27.34px;top:131.2px;-webkit-text-stroke-width:1.45px;transform:scaleX(1.0406)">I</span>
<span class="t title" style="left:42.02px;top:131.2px;-webkit-text-stroke-width:0.9px;transform:scaleX(1.2618)">N</span>
<span class="t title" style="left:82.67px;top:131.2px;-webkit-text-stroke-width:2px;transform:scaleX(0.8436)">S</span>
<span class="t title" style="left:108.04px;top:131.2px;-webkit-text-stroke-width:2px;transform:scaleX(0.8324)">T</span>
<span class="t title" style="left:127.54px;top:131.2px;-webkit-text-stroke-width:0.9px;transform:scaleX(1.1534)">A</span>
<span class="t title" style="left:161.89px;top:131.2px;-webkit-text-stroke-width:0.9px;transform:scaleX(1.1547)">G</span>
<span class="t title" style="left:200.36px;top:131.2px;-webkit-text-stroke-width:2px;transform:scaleX(0.8918)">R</span>
<span class="t title" style="left:227.64px;top:131.2px;-webkit-text-stroke-width:0.9px;transform:scaleX(1.15)">A</span>
<span class="t title" style="left:262.18px;top:131.2px;-webkit-text-stroke-width:0.9px;transform:scaleX(1.3318)">M</span>
<span class="t title" style="left:306.23px;top:131.2px;-webkit-text-stroke-width:0.9px;transform:scaleX(1.306)">M</span>
<span class="t title" style="left:349.46px;top:131.2px;-webkit-text-stroke-width:0.9px;transform:scaleX(1.1227)">A</span>
<span class="t title" style="left:384.88px;top:131.2px;-webkit-text-stroke-width:1.89px;transform:scaleX(0.9161)">B</span>
<span class="t title" style="left:414.88px;top:131.2px;-webkit-text-stroke-width:2px;transform:scaleX(0.7659)">L</span>
<span class="t title" style="left:437.76px;top:131.2px;-webkit-text-stroke-width:2px;transform:scaleX(0.7228)">E</span>
<span class="t title" style="left:27.91px;top:181.6px;-webkit-text-stroke-width:2px;transform:scaleX(0.8791)">C</span>
<span class="t title" style="left:53.1px;top:181.6px;-webkit-text-stroke-width:0.9px;transform:scaleX(1.2078)">A</span>
<span class="t title" style="left:91.97px;top:181.6px;-webkit-text-stroke-width:2px;transform:scaleX(0.8329)">S</span>
<span class="t title" style="left:117.16px;top:181.6px;-webkit-text-stroke-width:2px;transform:scaleX(0.847)">T</span>
<span class="t title" style="left:142.8px;top:181.6px;-webkit-text-stroke-width:2px;transform:scaleX(0.6959)">L</span>
<span class="t title" style="left:163.98px;top:181.6px;-webkit-text-stroke-width:2px;transform:scaleX(0.7076)">E</span>
<span class="t title" style="left:188.07px;top:181.6px;-webkit-text-stroke-width:2px;transform:scaleX(0.8436)">S</span>
<div class="pill" style="left:58px;top:268px;width:129px;height:37px;background:#80599d"></div>
<div class="pill" style="left:430px;top:267.5px;width:218.5px;height:37px;background:#3a8fa6"></div>
<span class="t pt" style="left:77.01px;top:272.8px;-webkit-text-stroke-width:1.3px;transform:scaleX(0.8145)">C</span>
<span class="t pt" style="left:93.03px;top:272.8px;-webkit-text-stroke-width:0.75px;transform:scaleX(1.0041)">A</span>
<span class="t pt" style="left:113.81px;top:272.8px;-webkit-text-stroke-width:1.3px;transform:scaleX(0.7997)">S</span>
<span class="t pt" style="left:128.22px;top:272.8px;-webkit-text-stroke-width:1.3px;transform:scaleX(0.7845)">T</span>
<span class="t pt" style="left:142.87px;top:272.8px;-webkit-text-stroke-width:1.3px;transform:scaleX(0.6895)">L</span>
<span class="t pt" style="left:156.22px;top:272.8px;-webkit-text-stroke-width:1.3px;transform:scaleX(0.6375)">E</span>
<span class="t pt" style="left:446.9px;top:272.8px;-webkit-text-stroke-width:0.5px;transform:scaleX(1.1067)">N</span>
<span class="t pt" style="left:469.17px;top:272.8px;-webkit-text-stroke-width:0.77px;transform:scaleX(0.9994)">U</span>
<span class="t pt" style="left:488.49px;top:272.8px;-webkit-text-stroke-width:0.5px;transform:scaleX(1.2159)">M</span>
<span class="t pt" style="left:515.71px;top:272.8px;-webkit-text-stroke-width:1.3px;transform:scaleX(0.7552)">B</span>
<span class="t pt" style="left:532.17px;top:272.8px;-webkit-text-stroke-width:1.3px;transform:scaleX(0.696)">E</span>
<span class="t pt" style="left:546.71px;top:272.8px;-webkit-text-stroke-width:1.3px;transform:scaleX(0.7631)">R</span>
<span class="t pt" style="left:571.28px;top:272.8px;-webkit-text-stroke-width:0.5px;transform:scaleX(1.0943)">O</span>
<span class="t pt" style="left:594.84px;top:272.8px;-webkit-text-stroke-width:1.3px;transform:scaleX(0.7205)">F</span>
<span class="t pt" style="left:616.66px;top:272.8px;-webkit-text-stroke-width:0.9px;transform:scaleX(1.0483)">#</span>
<span class="t name" id="n0a" style="left:41.6px;top:321px;transform:scaleX(0.985)">PRAGUE</span>
<span class="t name" id="n0b" style="left:127.2px;top:321px;transform:scaleX(0.9216)">CASTLE</span>
<span class="t ctry" id="c0" style="top:341.95px;transform:scaleX(1.027)">Czech Republic</span>
<div class="bar" style="top:327px;width:290.0px"></div>
<div class="row" style="top:366.2px"></div>
<span class="t name" id="n1a" style="left:41.6px;top:373px;transform:scaleX(1.0292)">EDINBURGH</span>
<span class="t name" id="n1b" style="left:164.7px;top:373px;transform:scaleX(0.9216)">CASTLE</span>
<span class="t ctry" id="c1" style="top:393.95px;transform:scaleX(1.0258)">Scotland</span>
<div class="bar" style="top:379px;width:252.3px"></div>
<span class="t name" id="n2a" style="left:41.6px;top:425px;transform:scaleX(1.0412)">NEUSCHWANSTEIN</span>
<span class="t name" id="n2b" style="left:232.7px;top:425px;transform:scaleX(0.9216)">CASTLE</span>
<span class="t ctry" id="c2" style="top:445.95px;transform:scaleX(1.0631)">Germany</span>
<div class="bar" style="top:431px;width:169.5px"></div>
<div class="row" style="top:470.2px"></div>
<span class="t name" id="n3a" style="left:41.6px;top:477px;transform:scaleX(1.0844)">WINDSOR</span>
<span class="t name" id="n3b" style="left:146px;top:477px;transform:scaleX(0.9216)">CASTLE</span>
<span class="t ctry" id="c3" style="top:497.95px;transform:scaleX(1.0293)">England</span>
<div class="bar" style="top:483px;width:168.8px"></div>
<span class="t name" id="n4a" style="left:41.6px;top:529px;transform:scaleX(1.0135)">PENA</span>
<span class="t name" id="n4b" style="left:101.1px;top:529px;transform:scaleX(0.9216)">CASTLE</span>
<span class="t ctry" id="c4" style="top:549.95px;transform:scaleX(1.0441)">Portugal</span>
<div class="bar" style="top:535px;width:122.1px"></div>
<div class="row" style="top:574.2px"></div>
<span class="t name" id="n5a" style="left:41.6px;top:581px;transform:scaleX(0.9963)">BUDA</span>
<span class="t name" id="n5b" style="left:102.2px;top:581px;transform:scaleX(0.9216)">CASTLE</span>
<span class="t ctry" id="c5" style="top:601.95px;transform:scaleX(1.0733)">Hungary</span>
<div class="bar" style="top:587px;width:91.5px"></div>
<span class="t name" id="n6a" style="left:41.1px;top:633px;transform:scaleX(1.0486)">ALHAMBRA</span>
<span class="t name" id="n6b" style="left:159.9px;top:633px;transform:scaleX(0.9453)">PALACE</span>
<span class="t ctry" id="c6" style="top:653.95px;transform:scaleX(1.0171)">Spain</span>
<div class="bar" style="top:639px;width:51.7px"></div>
<div class="row" style="top:678.2px"></div>
<span class="t name" id="n7a" style="left:41.6px;top:685px;transform:scaleX(0.8806)">LEEDS</span>
<span class="t name" id="n7b" style="left:103px;top:685px;transform:scaleX(0.9216)">CASTLE</span>
<span class="t ctry" id="c7" style="top:705.95px;transform:scaleX(1.0293)">England</span>
<div class="bar" style="top:691px;width:47.1px"></div>
<span class="t name" id="n8a" style="left:41.6px;top:737px;transform:scaleX(1.0111)">BRAN</span>
<span class="t name" id="n8b" style="left:103px;top:737px;transform:scaleX(0.9216)">CASTLE</span>
<span class="t ctry" id="c8" style="top:757.95px;transform:scaleX(0.9938)">Romania</span>
<div class="bar" style="top:743px;width:39.8px"></div>
<div class="row" style="top:782.2px"></div>
<span class="t name" id="n9a" style="left:41.6px;top:789px;transform:scaleX(0.8639)">PELE&#x218;</span>
<span class="t name" id="n9b" style="left:101.1px;top:789px;transform:scaleX(0.9216)">CASTLE</span>
<span class="t ctry" id="c9" style="top:809.95px;transform:scaleX(0.9938)">Romania</span>
<div class="bar" style="top:795px;width:36.0px"></div>
<span class="t val" style="left:629.63px;top:328.1px;-webkit-text-stroke-width:0.93px;transform:scaleX(1.0967)">6</span>
<span class="t val" style="left:644.94px;top:328.1px;-webkit-text-stroke-width:1.02px;transform:scaleX(1.0727)">6</span>
<span class="t val" style="left:660.21px;top:328.1px;-webkit-text-stroke-width:0.91px;transform:scaleX(1.101)">7</span>
<span class="t val" style="left:679.54px;top:328.1px;-webkit-text-stroke-width:0.82px;transform:scaleX(1.1274)">9</span>
<span class="t val" style="left:694.97px;top:328.1px;-webkit-text-stroke-width:1.2px;transform:scaleX(1.0155)">3</span>
<span class="t val" style="left:710.67px;top:328.1px;-webkit-text-stroke-width:1.2px;transform:scaleX(0.9851)">3</span>
<span class="t val" style="left:592.98px;top:380.1px;-webkit-text-stroke-width:1.2px;transform:scaleX(0.9425)">5</span>
<span class="t val" style="left:607.69px;top:380.1px;-webkit-text-stroke-width:1.2px;transform:scaleX(1.0115)">8</span>
<span class="t val" style="left:510.77px;top:432.1px;-webkit-text-stroke-width:1.2px;transform:scaleX(1.0079)">3</span>
<span class="t val" style="left:525.24px;top:432.1px;-webkit-text-stroke-width:0.91px;transform:scaleX(1.104)">9</span>
<span class="t val" style="left:540.21px;top:432.1px;-webkit-text-stroke-width:0.74px;transform:scaleX(1.1489)">0</span>
<span class="t val" style="left:562.79px;top:432.1px;-webkit-text-stroke-width:1.06px;transform:scaleX(1.0521)">4</span>
<span class="t val" style="left:578.88px;top:432.1px;-webkit-text-stroke-width:1.2px;transform:scaleX(0.9425)">5</span>
<span class="t val" style="left:593.11px;top:432.1px;-webkit-text-stroke-width:0.85px;transform:scaleX(1.1178)">7</span>
<span class="t val" style="left:508.07px;top:484.1px;-webkit-text-stroke-width:1.2px;transform:scaleX(1.0155)">3</span>
<span class="t val" style="left:523.29px;top:484.1px;-webkit-text-stroke-width:1.2px;transform:scaleX(0.9887)">8</span>
<span class="t val" style="left:538.29px;top:484.1px;-webkit-text-stroke-width:1.2px;transform:scaleX(0.9887)">8</span>
<span class="t val" style="left:560.59px;top:484.1px;-webkit-text-stroke-width:1.2px;transform:scaleX(1.0191)">8</span>
<span class="t val" style="left:576.18px;top:484.1px;-webkit-text-stroke-width:1.2px;transform:scaleX(0.9653)">5</span>
<span class="t val" style="left:591.18px;top:484.1px;-webkit-text-stroke-width:1.2px;transform:scaleX(0.9653)">5</span>
<span class="t val" style="left:462.96px;top:536.1px;-webkit-text-stroke-width:1.14px;transform:scaleX(1.0019)">2</span>
<span class="t val" style="left:477.99px;top:536.1px;-webkit-text-stroke-width:1.2px;transform:scaleX(0.9887)">8</span>
<span class="t val" style="left:525.24px;top:536.1px;-webkit-text-stroke-width:1.03px;transform:scaleX(1.0727)">9</span>
<span class="t val" style="left:540.67px;top:536.1px;-webkit-text-stroke-width:1.2px;transform:scaleX(1.0155)">3</span>
<span class="t val" style="left:435.64px;top:588.1px;-webkit-text-stroke-width:1.04px;transform:scaleX(1.0274)">2</span>
<span class="t val" style="left:461.98px;top:588.1px;-webkit-text-stroke-width:0.63px;transform:scaleX(1.2367)">0</span>
<span class="t val" style="left:486.51px;top:588.1px;-webkit-text-stroke-width:0.91px;transform:scaleX(1.101)">7</span>
<span class="t val" style="left:500.94px;top:588.1px;-webkit-text-stroke-width:0.94px;transform:scaleX(1.0964)">9</span>
<span class="t val" style="left:516.59px;top:588.1px;-webkit-text-stroke-width:1.2px;transform:scaleX(0.9887)">8</span>
<span class="t val" style="left:415.74px;top:640.1px;-webkit-text-stroke-width:0.82px;transform:scaleX(1.1274)">9</span>
<span class="t val" style="left:438.61px;top:640.1px;-webkit-text-stroke-width:0.74px;transform:scaleX(1.1489)">0</span>
<span class="t val" style="left:454.99px;top:640.1px;-webkit-text-stroke-width:1.2px;transform:scaleX(0.9887)">8</span>
<span class="t val" style="left:468.91px;top:640.1px;-webkit-text-stroke-width:0.74px;transform:scaleX(1.1489)">0</span>
<span class="t val" style="left:399.01px;top:692.1px;-webkit-text-stroke-width:0.74px;transform:scaleX(1.1489)">0</span>
<span class="t val" style="left:414.68px;top:692.1px;-webkit-text-stroke-width:1.2px;transform:scaleX(0.9659)">8</span>
<span class="t val" style="left:436.17px;top:692.1px;-webkit-text-stroke-width:0.97px;transform:scaleX(1.079)">4</span>
<span class="t val" style="left:452.21px;top:692.1px;-webkit-text-stroke-width:0.91px;transform:scaleX(1.101)">7</span>
<span class="t val" style="left:467.58px;top:692.1px;-webkit-text-stroke-width:1.2px;transform:scaleX(0.9425)">5</span>
<span class="t val" style="left:380.64px;top:744.1px;-webkit-text-stroke-width:0.94px;transform:scaleX(1.0964)">9</span>
<span class="t val" style="left:416.21px;top:744.1px;-webkit-text-stroke-width:0.81px;transform:scaleX(1.1291)">6</span>
<span class="t val" style="left:443.61px;top:744.1px;-webkit-text-stroke-width:0.84px;transform:scaleX(1.1214)">6</span>
<span class="t val" style="left:377.31px;top:796.1px;-webkit-text-stroke-width:0.94px;transform:scaleX(1.0913)">7</span>
<span class="t val" style="left:391.99px;top:796.1px;-webkit-text-stroke-width:1.2px;transform:scaleX(0.9887)">8</span>
<span class="t val" style="left:414.61px;top:796.1px;-webkit-text-stroke-width:0.91px;transform:scaleX(1.101)">7</span>
<span class="t val" style="left:428.61px;top:796.1px;-webkit-text-stroke-width:0.65px;transform:scaleX(1.1818)">0</span>
<span class="t val" style="left:445.28px;top:796.1px;-webkit-text-stroke-width:1.2px;transform:scaleX(0.9425)">5</span>
<svg class="abs" style="left:0;top:300px" width="768" height="540" viewBox="0 300 768 540"><g fill="#3a8fa6"><polygon points="674.10,343.40 677.30,343.40 674.70,351.20 671.60,351.20"/><polygon points="623.50,383.00 631.00,383.00 631.00,400.30 626.10,400.30 626.10,387.40 623.50,386.90"/><polygon points="636.70,395.40 640.70,395.40 637.30,403.20 634.20,403.20"/><polygon points="644.00,383.00 651.20,383.00 651.20,400.30 646.30,400.30 646.30,387.40 644.00,386.90"/><polygon points="656.40,383.00 663.90,383.00 663.90,400.30 659.00,400.30 659.00,387.40 656.40,386.90"/><polygon points="668.70,383.00 676.20,383.00 676.20,400.30 671.30,400.30 671.30,387.40 668.70,386.90"/><polygon points="557.40,447.40 560.60,447.40 558.00,455.20 554.90,455.20"/><polygon points="554.70,499.40 558.60,499.40 555.30,507.20 552.20,507.20"/><polygon points="493.90,539.00 501.00,539.00 501.00,556.30 496.10,556.30 496.10,543.40 493.90,542.90"/><polygon points="507.10,551.40 510.90,551.40 507.70,559.20 504.60,559.20"/><polygon points="514.20,539.00 521.30,539.00 521.30,556.30 516.40,556.30 516.40,543.40 514.20,542.90"/><polygon points="451.90,591.00 458.70,591.00 458.70,608.30 453.80,608.30 453.80,595.40 451.90,594.90"/><polygon points="480.40,603.40 483.90,603.40 481.00,611.20 477.90,611.20"/><polygon points="392.60,643.00 399.80,643.00 399.80,660.30 394.90,660.30 394.90,647.40 392.60,646.90"/><polygon points="405.00,643.00 412.10,643.00 412.10,660.30 407.20,660.30 407.20,647.40 405.00,646.90"/><polygon points="433.50,655.40 436.90,655.40 434.10,663.20 431.00,663.20"/><polygon points="387.60,695.00 394.70,695.00 394.70,712.30 389.80,712.30 389.80,699.40 387.60,698.90"/><polygon points="431.40,707.40 434.90,707.40 432.00,715.20 428.90,715.20"/><polygon points="397.50,747.00 404.70,747.00 404.70,764.30 399.80,764.30 399.80,751.40 397.50,750.90"/><polygon points="410.75,759.40 414.40,759.40 411.35,767.20 408.25,767.20"/><polygon points="432.50,747.00 439.70,747.00 439.70,764.30 434.80,764.30 434.80,751.40 432.50,750.90"/><polygon points="408.10,811.40 411.80,811.40 408.70,819.20 405.60,819.20"/></g></svg>
<span class="t" id="foot" style="left:40px;top:849.5px;font-size:13.2px;color:#1c1c1c;-webkit-text-stroke:0.2px #1c1c1c;transform:scaleX(1.0069)">*Number of Instagram hashtags are live values obtained on 23/03/2021 and are subject to change.</span>
</body></html>
